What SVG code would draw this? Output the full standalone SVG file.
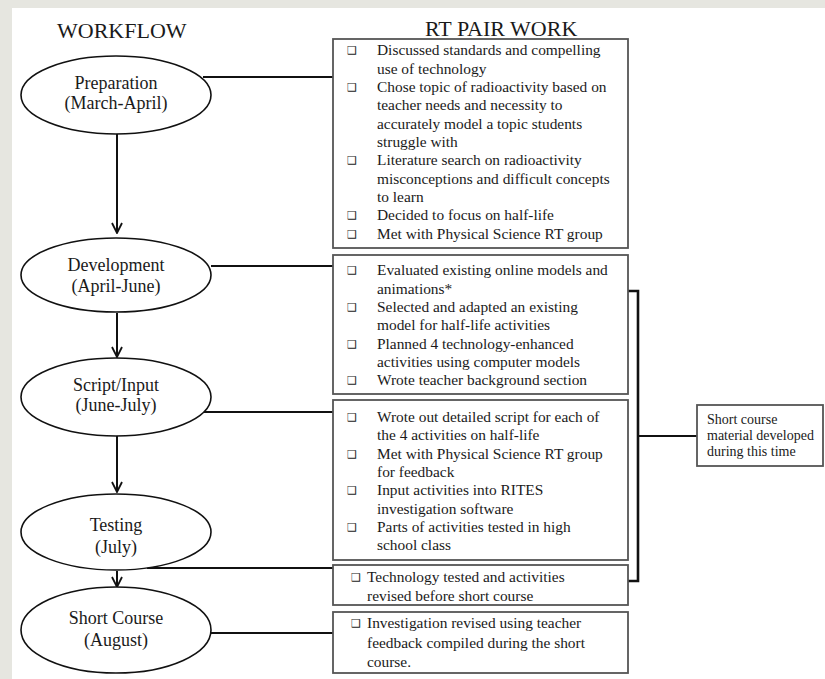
<svg xmlns="http://www.w3.org/2000/svg" width="825" height="679" viewBox="0 0 825 679">
<defs>
<style>
.t{font-family:"Liberation Serif","Times New Roman",serif;fill:#1a1a1a}
.h{font-size:22px}
.e{font-size:18px;text-anchor:middle}
.b{font-size:15.4px}
.s{font-size:14px}
.bu{font-family:"DejaVu Sans",sans-serif;font-size:11px;fill:#222}
.ell{fill:#fff;stroke:#111;stroke-width:1.6}
.box{fill:#fff;stroke:#555;stroke-width:1.8}
.con{fill:none;stroke:#111;stroke-width:2}
.brk{fill:none;stroke:#111;stroke-width:2.6}
</style>
<marker id="ah" viewBox="0 0 12 12" refX="11" refY="6" markerWidth="12" markerHeight="12" markerUnits="userSpaceOnUse" orient="auto">
<path d="M1,1 L11,6 L1,11" fill="none" stroke="#111" stroke-width="1.8"/>
</marker>
</defs>
<rect x="0" y="0" width="825" height="679" fill="#e6e6e0"/>
<rect x="12" y="8" width="813" height="671" fill="#fff"/>
<text class="t h" x="57" y="38">WORKFLOW</text>
<text class="t h" x="425" y="36">RT PAIR WORK</text>

<g id="connectors">
<line class="con" x1="117" y1="134" x2="117" y2="233" marker-end="url(#ah)"/>
<line class="con" x1="117" y1="313" x2="117" y2="357" marker-end="url(#ah)"/>
<line class="con" x1="117" y1="436" x2="117" y2="492" marker-end="url(#ah)"/>
<line class="con" x1="117" y1="571" x2="117" y2="587" marker-end="url(#ah)"/>
<line class="con" x1="203" y1="77" x2="333" y2="77"/>
<line class="con" x1="211" y1="266" x2="333" y2="266"/>
<line class="con" x1="203" y1="412" x2="333" y2="412"/>
<line class="con" x1="147" y1="568" x2="333" y2="568"/>
<line class="con" x1="211" y1="633" x2="333" y2="633"/>
<path class="brk" d="M628,291 H638 V581 H628"/>
<line class="con" x1="638" y1="436" x2="697" y2="436"/>
</g>

<g id="node-preparation">
<ellipse class="ell" cx="116" cy="95" rx="95" ry="39"/>
<text class="t e" x="116" y="89">Preparation</text>
<text class="t e" x="116" y="109">(March-April)</text>
</g>
<g id="node-development">
<ellipse class="ell" cx="116" cy="275" rx="95" ry="37"/>
<text class="t e" x="116" y="271">Development</text>
<text class="t e" x="116" y="292">(April-June)</text>
</g>
<g id="node-script">
<ellipse class="ell" cx="116" cy="397" rx="95" ry="39"/>
<text class="t e" x="116" y="391">Script/Input</text>
<text class="t e" x="116" y="411">(June-July)</text>
</g>
<g id="node-testing">
<ellipse class="ell" cx="116" cy="532" rx="95" ry="38"/>
<text class="t e" x="116" y="531">Testing</text>
<text class="t e" x="116" y="553">(July)</text>
</g>
<g id="node-shortcourse">
<ellipse class="ell" cx="116" cy="630" rx="95" ry="43"/>
<text class="t e" x="116" y="624">Short Course</text>
<text class="t e" x="116" y="646">(August)</text>
</g>

<g id="box-preparation">
<rect class="box" x="333" y="39" width="295" height="209"/>
<text class="bu" x="347" y="54">❑</text>
<text class="t b" x="377" y="55">Discussed standards and compelling</text>
<text class="t b" x="377" y="73.5">use of technology</text>
<text class="bu" x="347" y="91">❑</text>
<text class="t b" x="377" y="92">Chose topic of radioactivity based on</text>
<text class="t b" x="377" y="110">teacher needs and necessity to</text>
<text class="t b" x="377" y="128.5">accurately model a topic students</text>
<text class="t b" x="377" y="147">struggle with</text>
<text class="bu" x="347" y="164">❑</text>
<text class="t b" x="377" y="165">Literature search on radioactivity</text>
<text class="t b" x="377" y="183.5">misconceptions and difficult concepts</text>
<text class="t b" x="377" y="202">to learn</text>
<text class="bu" x="347" y="219">❑</text>
<text class="t b" x="377" y="220">Decided to focus on half-life</text>
<text class="bu" x="347" y="237.5">❑</text>
<text class="t b" x="377" y="238.5">Met with Physical Science RT group</text>
</g>

<g id="box-development">
<rect class="box" x="333" y="255" width="295" height="139"/>
<text class="bu" x="347" y="274">❑</text>
<text class="t b" x="377" y="275">Evaluated existing online models and</text>
<text class="t b" x="377" y="293.5">animations*</text>
<text class="bu" x="347" y="311">❑</text>
<text class="t b" x="377" y="312">Selected and adapted an existing</text>
<text class="t b" x="377" y="330">model for half-life activities</text>
<text class="bu" x="347" y="347.5">❑</text>
<text class="t b" x="377" y="348.5">Planned 4 technology-enhanced</text>
<text class="t b" x="377" y="367">activities using computer models</text>
<text class="bu" x="347" y="384">❑</text>
<text class="t b" x="377" y="385">Wrote teacher background section</text>
</g>

<g id="box-script">
<rect class="box" x="333" y="400" width="295" height="160"/>
<text class="bu" x="347" y="421">❑</text>
<text class="t b" x="377" y="422">Wrote out detailed script for each of</text>
<text class="t b" x="377" y="440">the 4 activities on half-life</text>
<text class="bu" x="347" y="457.5">❑</text>
<text class="t b" x="377" y="458.5">Met with Physical Science RT group</text>
<text class="t b" x="377" y="477">for feedback</text>
<text class="bu" x="347" y="494">❑</text>
<text class="t b" x="377" y="495">Input activities into RITES</text>
<text class="t b" x="377" y="513.5">investigation software</text>
<text class="bu" x="347" y="531">❑</text>
<text class="t b" x="377" y="532">Parts of activities tested in high</text>
<text class="t b" x="377" y="550">school class</text>
</g>

<g id="box-testing">
<rect class="box" x="333" y="565" width="295" height="40"/>
<text class="bu" x="351" y="581">❑</text>
<text class="t b" x="367" y="582">Technology tested and activities</text>
<text class="t b" x="367" y="601">revised before short course</text>
</g>

<g id="box-shortcourse">
<rect class="box" x="333" y="612" width="295" height="61"/>
<text class="bu" x="351" y="627">❑</text>
<text class="t b" x="367" y="628">Investigation revised using teacher</text>
<text class="t b" x="367" y="647.5">feedback compiled during the short</text>
<text class="t b" x="367" y="667">course.</text>
</g>

<g id="box-note">
<rect class="box" x="697" y="405" width="126" height="61"/>
<text class="t s" x="707" y="424">Short course</text>
<text class="t s" x="707" y="440">material developed</text>
<text class="t s" x="707" y="456">during this time</text>
</g>
</svg>
